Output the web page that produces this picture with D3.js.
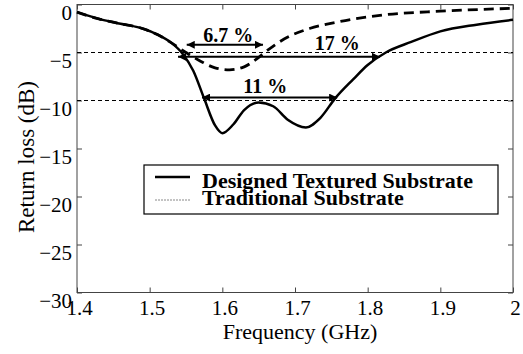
<!DOCTYPE html>
<html>
<head>
<meta charset="utf-8">
<script src="https://cdn.jsdelivr.net/npm/d3@7"></script>
<style>
  body { margin: 0; background: #fff; }
  svg, svg text { font-family: "Liberation Serif", "Times New Roman", Times, "DejaVu Serif", serif !important; }
</style>
</head>
<body>
<div id="chart"></div>
<script>
// Designed textured substrate (solid)
const freqDesigned = [1.40, 1.43, 1.46, 1.49, 1.51, 1.53, 1.545, 1.56, 1.575, 1.59, 1.60, 1.615, 1.63, 1.65, 1.67, 1.69, 1.715, 1.735, 1.755, 1.78, 1.80, 1.825, 1.86, 1.90, 1.95, 2.00];
const lossDesigned = [-0.8, -1.5, -2.0, -2.5, -3.1, -4.0, -5.1, -6.9, -9.8, -12.6, -13.4, -12.5, -11.0, -10.2, -10.6, -12.0, -12.8, -11.8, -9.8, -7.8, -6.3, -5.0, -3.9, -2.8, -2.1, -1.6];

// Traditional substrate (dashed)
const freqTraditional = [1.40, 1.43, 1.46, 1.49, 1.51, 1.53, 1.55, 1.57, 1.59, 1.61, 1.63, 1.645, 1.66, 1.685, 1.72, 1.76, 1.82, 1.90, 2.00];
const lossTraditional = [-0.8, -1.5, -2.0, -2.5, -3.1, -4.0, -5.0, -5.9, -6.6, -6.8, -6.5, -5.8, -4.9, -3.6, -2.5, -1.8, -1.1, -0.7, -0.4];

// bandwidth annotations
const bandLabels = ["6.7 %", "17 %", "11 %"];
const bandStart = [1.551, 1.539, 1.572];
const bandEnd = [1.656, 1.817, 1.758];
const bandLevel = [-4.2, -5.45, -9.7];
const labelFreq = [1.608, 1.758, 1.659];
const labelLevel = [-3.9, -4.7, -9.2];

const refLevels = [-5, -10];
const xTicks = [1.4, 1.5, 1.6, 1.7, 1.8, 1.9, 2];
const yTicks = [0, -5, -10, -15, -20, -25, -30];

const legendLabels = ["Designed Textured Substrate", "Traditional Substrate"];

const width = 523, height = 354;
const margin = { top: 4.5, right: 10, bottom: 61.5, left: 77 };
const serif = "'Liberation Serif', 'Times New Roman', Times, 'DejaVu Serif', serif";

const svg = d3.select("#chart").append("svg")
    .attr("width", width)
    .attr("height", height);

const x = d3.scaleLinear().domain([1.4, 2]).range([margin.left, width - margin.right]);
const y = d3.scaleLinear().domain([-30, 0]).range([height - margin.bottom, margin.top]);

// arrow heads
const defs = svg.append("defs");
defs.append("marker")
    .attr("id", "arrow")
    .attr("viewBox", "0 0 10 10")
    .attr("refX", 10).attr("refY", 5)
    .attr("markerWidth", 10).attr("markerHeight", 8)
    .attr("markerUnits", "userSpaceOnUse")
    .attr("orient", "auto-start-reverse")
    .append("path")
    .attr("d", "M0,0 L10,5 L0,10 Z")
    .attr("fill", "#000");

// frame
svg.append("rect")
    .attr("x", x(1.4)).attr("y", y(0))
    .attr("width", x(2) - x(1.4)).attr("height", y(-30) - y(0))
    .attr("fill", "none").attr("stroke", "#444").attr("stroke-width", 1);

// axes with inward ticks
const axisStyle = g => {
    g.attr("font-family", serif);
    g.select(".domain").remove();
    g.selectAll(".tick line").attr("stroke", "#444");
    g.selectAll("text").attr("fill", "#000").style("font-size", "21px");
};

svg.append("g")
    .attr("transform", `translate(0,${y(-30)})`)
    .call(d3.axisBottom(x).tickValues(xTicks).tickFormat(d3.format("")).tickSizeInner(-5).tickPadding(8))
    .call(axisStyle)
    .selectAll("text").attr("dx", 2);

svg.append("g")
    .attr("transform", `translate(0,${y(0)})`)
    .call(d3.axisTop(x).tickValues(xTicks).tickFormat("").tickSizeInner(-5))
    .call(axisStyle);

svg.append("g")
    .attr("transform", `translate(${x(1.4)},0)`)
    .call(d3.axisLeft(y).tickValues(yTicks).tickFormat(d3.format("")).tickSizeInner(-5).tickPadding(5))
    .call(axisStyle)
    .selectAll("text").attr("dy", "0.7em");

svg.append("g")
    .attr("transform", `translate(${x(2)},0)`)
    .call(d3.axisRight(y).tickValues(yTicks).tickFormat("").tickSizeInner(-5))
    .call(axisStyle);

// axis titles
svg.append("text")
    .attr("x", 300).attr("y", 339)
    .attr("text-anchor", "middle")
    .style("font-size", "22px")
    .text("Frequency (GHz)");

svg.append("text")
    .attr("transform", "translate(34,157) rotate(-90)")
    .attr("text-anchor", "middle")
    .style("font-size", "23px")
    .text("Return loss (dB)");

// reference levels
svg.selectAll(".ref")
    .data(refLevels)
    .enter().append("line")
    .attr("class", "ref")
    .attr("x1", x(1.4)).attr("x2", x(2))
    .attr("y1", d => y(d)).attr("y2", d => y(d))
    .attr("stroke", "#000").attr("stroke-width", 1.2)
    .attr("stroke-dasharray", "4,3");

const line = d3.line()
    .x(d => x(d[0]))
    .y(d => y(d[1]))
    .curve(d3.curveMonotoneX);

svg.append("path")
    .datum(d3.zip(freqTraditional, lossTraditional))
    .attr("d", line)
    .attr("fill", "none").attr("stroke", "#000")
    .attr("stroke-width", 2.8).attr("stroke-dasharray", "10,6");

svg.append("path")
    .datum(d3.zip(freqDesigned, lossDesigned))
    .attr("d", line)
    .attr("fill", "none").attr("stroke", "#000")
    .attr("stroke-width", 2.5);

// bandwidth arrows and labels
const bands = bandLabels.map((label, i) => ({
    label, x0: bandStart[i], x1: bandEnd[i], level: bandLevel[i], lx: labelFreq[i], ly: labelLevel[i]
}));

svg.selectAll(".band")
    .data(bands)
    .enter().append("line")
    .attr("class", "band")
    .attr("x1", d => x(d.x0)).attr("x2", d => x(d.x1))
    .attr("y1", d => y(d.level)).attr("y2", d => y(d.level))
    .attr("stroke", "#000").attr("stroke-width", 2)
    .attr("marker-start", "url(#arrow)")
    .attr("marker-end", "url(#arrow)");

svg.selectAll(".bandLabel")
    .data(bands)
    .enter().append("text")
    .attr("class", "bandLabel")
    .attr("x", d => x(d.lx)).attr("y", d => y(d.ly))
    .attr("text-anchor", "middle")
    .style("font-size", "20px").style("font-weight", "bold")
    .text(d => d.label);

// legend
const legend = svg.append("g").attr("transform", "translate(144,165)");
legend.append("rect")
    .attr("width", 354).attr("height", 49)
    .attr("fill", "#fff").attr("stroke", "#000").attr("stroke-width", 1.2);

legend.append("line")
    .attr("x1", 11).attr("x2", 46).attr("y1", 12).attr("y2", 12)
    .attr("stroke", "#000").attr("stroke-width", 2.5);
legend.append("line")
    .attr("x1", 11).attr("x2", 46).attr("y1", 35).attr("y2", 35)
    .attr("stroke", "#888").attr("stroke-width", 1).attr("stroke-dasharray", "2,1");

legend.selectAll(".legLabel")
    .data(legendLabels)
    .enter().append("text")
    .attr("class", "legLabel")
    .attr("x", 58).attr("y", (d, i) => 23 + i * 17)
    .style("font-size", "22px").style("font-weight", "bold")
    .text(d => d);
</script>
</body>
</html>
